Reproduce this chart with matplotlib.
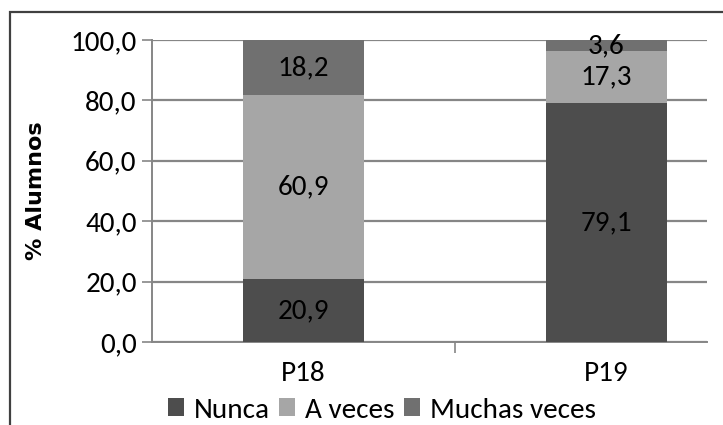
import numpy as np
import matplotlib
matplotlib.use('Agg')
from matplotlib import pyplot as plt
from matplotlib.patches import Rectangle

categories = ['P18', 'P19']
series = ['Nunca', 'A veces', 'Muchas veces']
nunca = [20.9, 79.1]
a_veces = [60.9, 17.3]
muchas = [18.2, 3.6]
colors = ['#4d4d4d', '#a6a6a6', '#707070']
yticks = [0, 20, 40, 60, 80, 100]

plt.rcParams['font.family'] = ['Carlito', 'DejaVu Sans']
fs = 21

fig = plt.figure(figsize=(7.23, 4.25), dpi=100)
ax = fig.add_axes([152/723, 1-342/425, (707-152)/723, (342-40)/425])

x = np.arange(len(categories))
bottom = np.zeros(len(categories))
for vals, name, c in zip([nunca, a_veces, muchas], series, colors):
    vals = np.array(vals)
    ax.bar(x, vals, 0.4, bottom=bottom, color=c, label=name, zorder=3)
    for xi, b, v in zip(x, bottom, vals):
        ax.text(xi, b + v/2, ('%.1f' % v).replace('.', ','), ha='center', va='center',
                fontsize=fs, color='black', zorder=4)
    bottom += vals

ax.set_xlim(-0.5, -0.5 + 555/303)
ax.set_ylim(0, 100)
ax.set_yticks(yticks)
ax.set_yticklabels([('%.1f' % t).replace('.', ',') for t in yticks], fontsize=fs)
ax.yaxis.grid(True, color='#868686', linewidth=1.6, zorder=0)
ax.set_xticks(x)
ax.set_xticklabels(categories, fontsize=fs)
ax.set_xticks([0.5], minor=True)
ax.tick_params(axis='x', which='major', length=0, pad=14)
ax.tick_params(axis='x', which='minor', length=8, width=1.2, color='#868686')
ax.tick_params(axis='y', length=7, width=1.2, color='#868686', pad=4)
for s in ['top', 'right']:
    ax.spines[s].set_visible(False)
for s in ['left', 'bottom']:
    ax.spines[s].set_color('#868686')
    ax.spines[s].set_linewidth(1.4)
ax.set_ylabel('% Alumnos', fontsize=16, fontweight='bold', family='DejaVu Sans')
ax.yaxis.set_label_coords((46-152)/555, 0.5)

fig.legend(loc='center', bbox_to_anchor=(382/723, 1-410/425), ncol=3, frameon=False,
           fontsize=fs, handlelength=0.55, handleheight=0.55, handletextpad=0.35,
           columnspacing=0.3)

# chart border
fig.patches.append(Rectangle((10/723, -0.1), 1.2, 1-12/425+0.1, transform=fig.transFigure,
                             fill=False, edgecolor='#404040', linewidth=1.6))

fig.savefig('out.png', dpi=100)
